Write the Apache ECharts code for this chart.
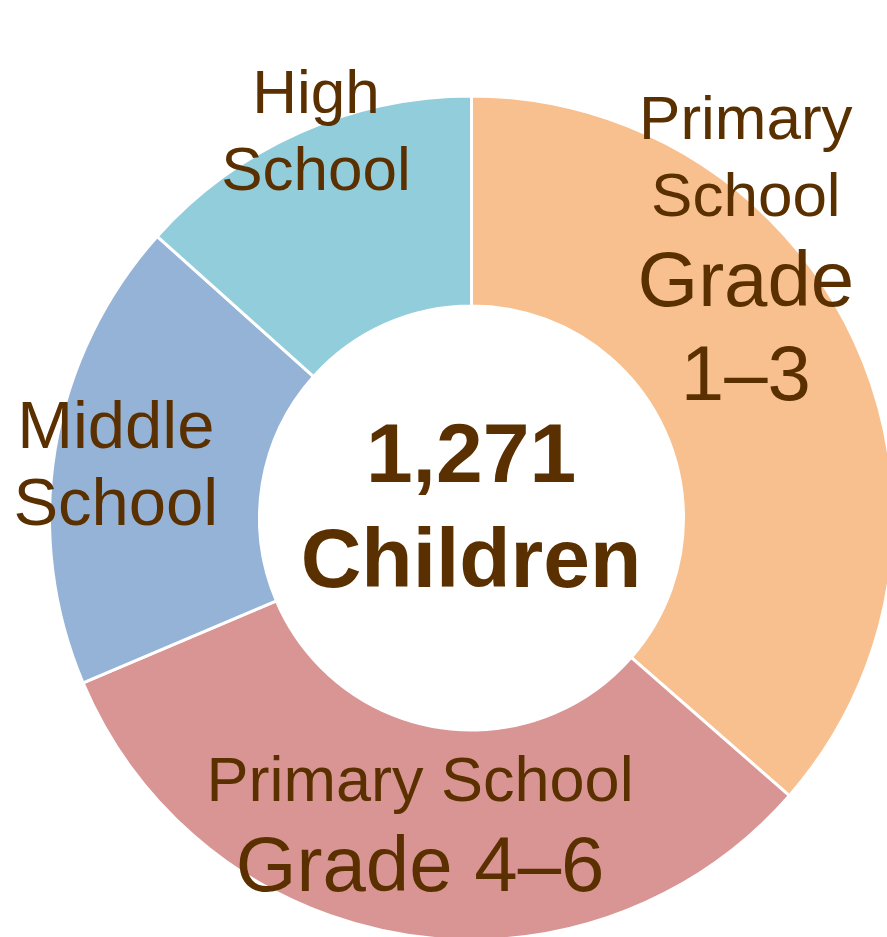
<!DOCTYPE html>
<html>
<head>
<meta charset="utf-8">
<script src="https://cdn.jsdelivr.net/npm/echarts@6/dist/echarts.min.js"></script>
<style>
    html, body { margin: 0; padding: 0; background: #fff; }
    #chart { width: 887px; height: 937px; }
</style>
</head>
<body>
<div id="chart"></div>
<script>
// 各学段人数
const categories = ["Primary School Grade 1–3", "Primary School Grade 4–6", "Middle School", "High School"]
const values = [463, 409, 229, 170]
// 标签文字：上半部分（小字）与下半部分（大字）
const labelSmall = [["Primary", "School"], ["Primary School"], ["Middle", "School"], ["High", "School"]]
const labelLarge = [["Grade", "1–3"], ["Grade 4–6"], [], []]
const totalText = ["1,271", "Children"]

const colors = ["#F9C08F", "#D99594", "#95B3D7", "#92CDDC"]
const textColor = "#5A3000"
const fontFamily = "'Liberation Sans', Arial, sans-serif"

// 标签相对扇区中点的偏移
const labelOffsets = [[-17, -131], [-1, -3], [-40, 2], [-25, -91]]
const smallSizes = [62, 63, 67, 62]

const chart = echarts.init(document.getElementById("chart"))

chart.setOption({
    animation: false,
    series: [
        {
            type: "pie",
            center: [471.5, 518],
            radius: [212, 422],
            startAngle: 90,
            clockwise: true,
            silent: true,
            itemStyle: {
                borderColor: "#fff",
                borderWidth: 3,
            },
            label: {
                show: true,
                position: "inside",
                color: textColor,
                fontFamily: fontFamily,
                textBorderWidth: 0,
                align: "center",
            },
            labelLine: { show: false },
            data: categories.map((name, i) => {
                const lines = labelSmall[i].map(t => `{s|${t}}`).concat(labelLarge[i].map(t => `{l|${t}}`))
                return {
                    name,
                    value: values[i],
                    itemStyle: { color: colors[i] },
                    label: {
                        formatter: lines.join("\n"),
                        offset: labelOffsets[i],
                        rich: {
                            s: { fontSize: smallSizes[i], lineHeight: 77, color: textColor, fontFamily, align: "center" },
                            l: { fontSize: 78, lineHeight: 94, color: textColor, fontFamily, align: "center" },
                        },
                    },
                }
            }),
        },
    ],
    graphic: [
        {
            type: "text",
            x: 471,
            y: 511,
            silent: true,
            style: {
                text: totalText.join("\n"),
                font: `bold 84px ${fontFamily}`,
                lineHeight: 105,
                fill: textColor,
                align: "center",
                verticalAlign: "middle",
            },
        },
    ],
})
</script>
</body>
</html>
